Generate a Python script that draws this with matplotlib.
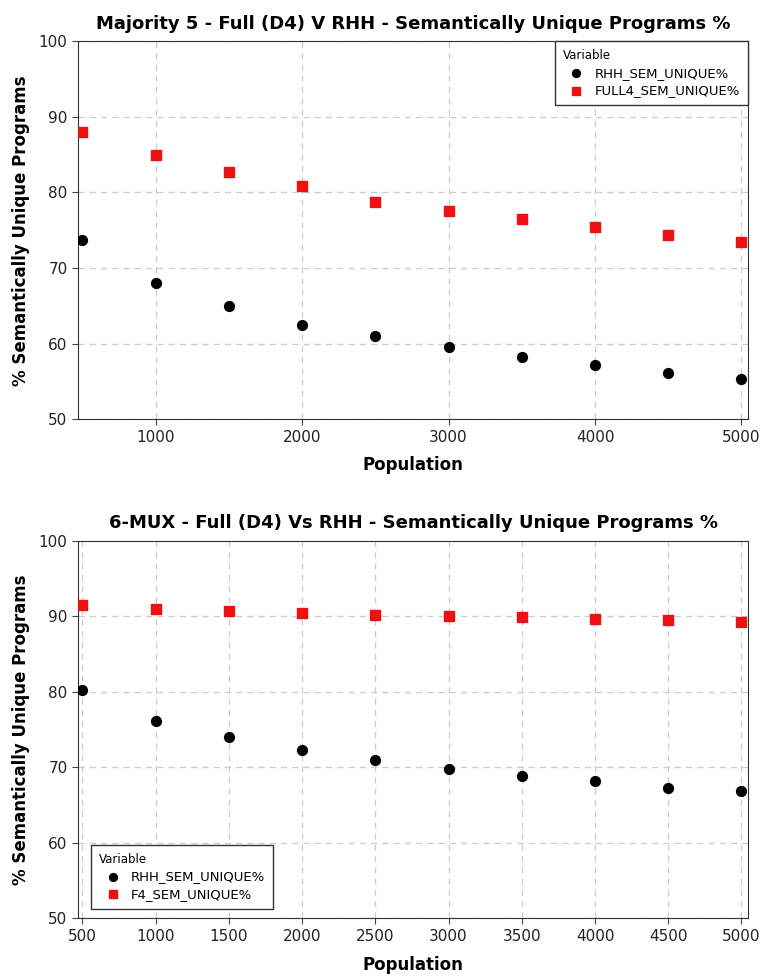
import numpy as np
import matplotlib
matplotlib.use("Agg")
import matplotlib.pyplot as plt

# population sizes shared by both problems
population = [500, 1000, 1500, 2000, 2500, 3000, 3500, 4000, 4500, 5000]

# Majority 5
maj_rhh = [73.7, 68.1, 65.0, 62.5, 61.0, 59.6, 58.3, 57.2, 56.2, 55.3]
maj_full4 = [88.0, 85.0, 82.7, 80.8, 78.8, 77.6, 76.5, 75.5, 74.4, 73.5]

# 6-MUX
mux_rhh = [80.2, 76.1, 74.0, 72.3, 71.0, 69.8, 68.9, 68.2, 67.3, 66.9]
mux_f4 = [91.5, 91.0, 90.7, 90.4, 90.2, 90.0, 89.9, 89.7, 89.5, 89.3]

top_xticks = [1000, 2000, 3000, 4000, 5000]
bottom_xticks = population
yticks = [50, 60, 70, 80, 90, 100]

fig = plt.figure(figsize=(7.61, 9.8), dpi=100)
ax1 = fig.add_axes([0.1025, 0.572, 0.8805, 0.386])
ax2 = fig.add_axes([0.1025, 0.063, 0.8805, 0.385])


def style(ax, title, xticks, xpad):
    ax.set_xlim(470, 5045)
    ax.set_ylim(50, 100)
    ax.set_xticks(xticks)
    ax.set_yticks(yticks)
    ax.grid(True, color='#cccccc', linestyle=(0, (5, 4)), linewidth=0.9)
    ax.set_axisbelow(True)
    ax.tick_params(labelsize=11, length=4, color='#444444', labelcolor='#222222')
    ax.set_title(title, fontsize=13, fontweight='bold', pad=9)
    ax.set_xlabel('Population', fontsize=12, fontweight='bold', labelpad=xpad)
    ax.set_ylabel('% Semantically Unique Programs', fontsize=12, fontweight='bold', labelpad=6)
    for s in ax.spines.values():
        s.set_color('#333333')


ax1.scatter(population, maj_rhh, s=50, c='black', marker='o', label='RHH_SEM_UNIQUE%', zorder=3)
ax1.scatter(population, maj_full4, s=55, c='#ee1111', marker='s', label='FULL4_SEM_UNIQUE%', zorder=3)
style(ax1, 'Majority 5 - Full (D4) V RHH - Semantically Unique Programs %', top_xticks, 8)
leg1 = ax1.legend(title='Variable', loc='upper right', fontsize=9.5, title_fontsize=8.5,
                  fancybox=False, edgecolor='#333333', framealpha=1,
                  borderaxespad=0, handletextpad=0.4, markerscale=0.8,
                  borderpad=0.6, labelspacing=0.35)
leg1._legend_box.align = 'left'

ax2.scatter(population, mux_rhh, s=50, c='black', marker='o', label='RHH_SEM_UNIQUE%', zorder=3)
ax2.scatter(population, mux_f4, s=55, c='#ee1111', marker='s', label='F4_SEM_UNIQUE%', zorder=3)
style(ax2, '6-MUX - Full (D4) Vs RHH - Semantically Unique Programs %', bottom_xticks, 9)
leg2 = ax2.legend(title='Variable', loc='lower left', bbox_to_anchor=(0.02, 0.025),
                  fontsize=9.5, title_fontsize=8.5, fancybox=False, edgecolor='#333333',
                  framealpha=1, borderaxespad=0, handletextpad=0.4, markerscale=0.8,
                  borderpad=0.6, labelspacing=0.35)
leg2._legend_box.align = 'left'

fig.savefig('out.png', dpi=100)
